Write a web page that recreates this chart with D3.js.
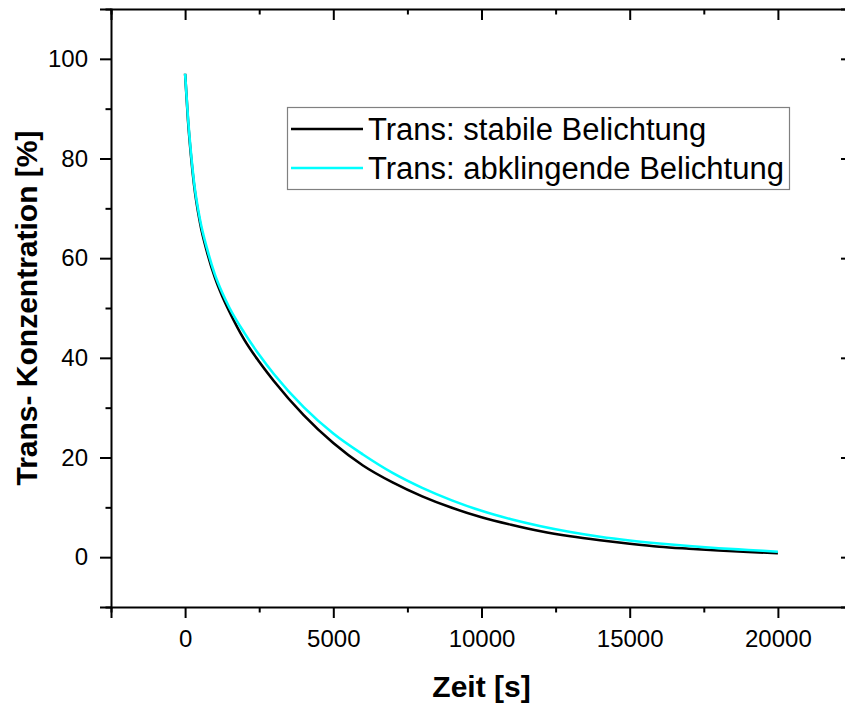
<!DOCTYPE html>
<html>
<head>
    <script src="https://d3js.org/d3.v7.min.js"></script>
    <style>
        body { margin: 0; background: #fff; }
        text { font-family: "Liberation Sans", Arial, sans-serif; }
    </style>
</head>
<body>
    <div id="chart"></div>

    <script>
        // time points [s]
        const zeit = [0, 100, 200, 300, 500, 750, 1000, 1250, 1500, 2000, 2500, 3000, 4000, 5000,
            6000, 7000, 8000, 9000, 10000, 11000, 12000, 13000, 14000, 15000, 16000, 17000, 18000, 19000, 20000];

        // trans concentration [%]
        const stabil = [97, 87.5, 80.5, 74.8, 67.2, 61.0, 56.2, 52.4, 49.2, 43.6, 39.2, 35.3, 28.5, 22.9,
            18.4, 15.0, 12.2, 9.9, 8.0, 6.5, 5.2, 4.2, 3.4, 2.7, 2.1, 1.7, 1.35, 1.05, 0.8];
        const abklingend = [97, 88, 81, 75.3, 67.8, 61.7, 56.8, 53.1, 50.0, 45.0, 40.6, 36.7, 30.1, 24.8,
            20.6, 16.9, 13.9, 11.4, 9.3, 7.6, 6.2, 5.05, 4.1, 3.35, 2.75, 2.25, 1.8, 1.45, 1.1];

        const seriesNames = ["Trans: stabile Belichtung", "Trans: abklingende Belichtung"];
        const seriesColors = ["#000000", "#00ffff"];

        const xMajor = [0, 5000, 10000, 15000, 20000];
        const xMinor = [-2500, 2500, 7500, 12500, 17500, 22500];
        const yMajor = [0, 20, 40, 60, 80, 100];
        const yMinor = [-10, 10, 30, 50, 70, 90, 110];

        const width = 845, height = 704;
        const margin = { top: 9, right: -7, bottom: 97, left: 111 };

        const svg = d3.select("#chart").append("svg")
            .attr("width", width)
            .attr("height", height);

        const x = d3.scaleLinear()
            .domain([-2500, 22500])
            .range([margin.left, width - margin.right]);

        const y = d3.scaleLinear()
            .domain([-10, 110])
            .range([height - margin.bottom, margin.top]);

        // axes: major ticks with labels, minor ticks without
        function drawAxis(axisFn, scale, major, minor, transform, showLabels, size) {
            const g = svg.append("g").attr("transform", transform);
            g.call(axisFn(scale).tickValues(major).tickSize(size).tickPadding(12)
                .tickFormat(showLabels ? d3.format("d") : ""));
            g.selectAll(".tick line").attr("stroke-width", 2);
            g.select(".domain").attr("stroke-width", 2);
            g.selectAll(".tick text").attr("font-size", 24).attr("fill", "#000");
            const m = svg.append("g").attr("transform", transform);
            m.call(axisFn(scale).tickValues(minor).tickSize(size / 2).tickFormat(""));
            m.select(".domain").remove();
            m.selectAll(".tick line").attr("stroke-width", 2);
        }

        drawAxis(d3.axisBottom, x, xMajor, xMinor, `translate(0,${y(-10)})`, true, 11);
        drawAxis(d3.axisTop, x, xMajor, xMinor, `translate(0,${y(110)})`, false, -11);
        drawAxis(d3.axisLeft, y, yMajor, yMinor, `translate(${x(-2500)},0)`, true, 11);
        drawAxis(d3.axisRight, y, yMajor, yMinor, `translate(${x(22500)},0)`, false, -11);

        // curves
        const line = d3.line()
            .x((d, i) => x(zeit[i]))
            .y(d => y(d))
            .curve(d3.curveMonotoneX);

        [stabil, abklingend].forEach((vals, k) => {
            svg.append("path")
                .datum(vals)
                .attr("fill", "none")
                .attr("stroke", seriesColors[k])
                .attr("stroke-width", 2.6)
                .attr("d", line);
        });

        // axis titles
        svg.append("text")
            .attr("x", x(10000))
            .attr("y", 697)
            .attr("text-anchor", "middle")
            .attr("font-size", 30)
            .attr("font-weight", "bold")
            .text("Zeit [s]");

        svg.append("text")
            .attr("transform", `translate(37,${(y(-10) + y(110)) / 2}) rotate(-90)`)
            .attr("text-anchor", "middle")
            .attr("font-size", 30)
            .attr("font-weight", "bold")
            .text("Trans- Konzentration [%]");

        // legend
        const legend = svg.append("g");
        legend.append("rect")
            .attr("x", 287.5).attr("y", 107.5)
            .attr("width", 502).attr("height", 82)
            .attr("fill", "#fff")
            .attr("stroke", "#808080")
            .attr("stroke-width", 1.2);

        seriesNames.forEach((name, k) => {
            const ly = 129 + k * 39;
            legend.append("line")
                .attr("x1", 291).attr("x2", 363)
                .attr("y1", ly).attr("y2", ly)
                .attr("stroke", seriesColors[k])
                .attr("stroke-width", 2.6);
            legend.append("text")
                .attr("x", 368).attr("y", ly)
                .attr("dy", "0.35em")
                .attr("font-size", 31)
                .text(name);
        });
    </script>
</body>
</html>
